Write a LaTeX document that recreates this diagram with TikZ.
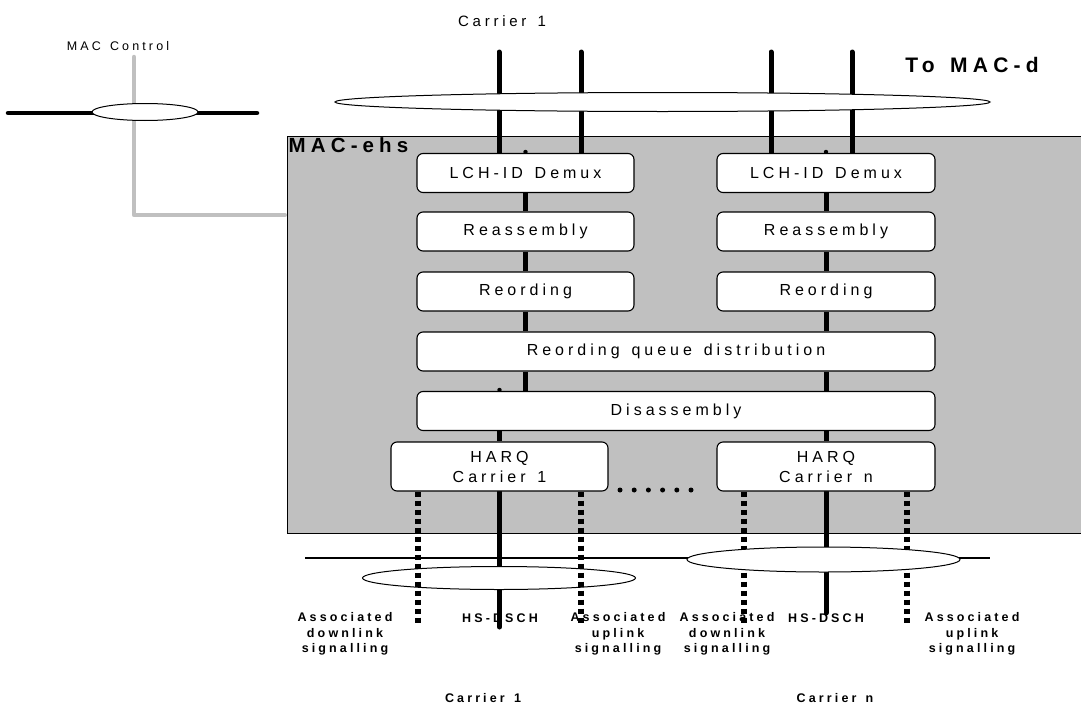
\documentclass[tikz,border=0pt]{standalone}
\usepackage{fontspec}
\setmainfont{Liberation Sans}
\newfontfamily\spaced[LetterSpace=25,WordSpace=1.4]{Liberation Sans}
\usetikzlibrary{shapes.geometric}
\definecolor{ehsgray}{RGB}{192,192,192}
\pgfdeclarelayer{bg}
\pgfdeclarelayer{back}
\pgfsetlayers{bg,back,main}

\begin{document}
\begin{tikzpicture}[x=1pt,y=-1pt,
		box/.style={draw,fill=white,rounded corners=6pt,line width=1.1pt,inner sep=0pt,minimum height=39pt,font=\spaced\fontsize{16}{20}\selectfont,align=center},
		link/.style={line width=5pt},
		chan/.style={line width=5pt,line cap=round},
		sig/.style={line width=6pt,dash pattern=on 5pt off 4pt},
		ctrl/.style={ehsgray,line width=4.5pt,line cap=round,line join=round},
		bundle/.style={ellipse,draw,fill=white,line width=1pt,inner sep=0pt},
		lbl/.style={font=\spaced\bfseries\fontsize{12.5}{15.5}\selectfont,align=center,inner sep=0pt}]
	\useasboundingbox (0,0) rectangle (1081,704);

	\begin{pgfonlayer}{bg}
		\node[draw,fill=ehsgray,line width=0.8pt,anchor=north west,inner sep=0pt,minimum width=800pt,minimum height=397pt] (ehs) at (287,136) {};
		\coordinate (mtop) at (134,57);
		\coordinate (bend) at (134,215);
		\draw[ctrl,shorten >=2.2pt] (mtop) -- (bend) -- (bend -| ehs.west);
	\end{pgfonlayer}
	\node[anchor=north west,inner sep=1.5pt,font=\spaced\bfseries\fontsize{20.5}{22}\selectfont] (ehslbl) at (ehs.north west) {MAC-ehs};

	% MAC Control
	\node[font=\spaced\fontsize{12.5}{14}\selectfont] (mctl) at (118,46) {MAC Control};
	\coordinate (ml) at (8,113);
	\coordinate (mr) at (257,113);
	\begin{pgfonlayer}{back}
		\draw[chan,line width=4.5pt] (ml) -- (mr);
	\end{pgfonlayer}
	\node[bundle,minimum width=106pt,minimum height=17pt] (macb) at (145,112) {};

	% top
	\node[font=\spaced\fontsize{15}{17}\selectfont] (car1) at (502,21) {Carrier 1};
	\node[font=\spaced\bfseries\fontsize{21}{23}\selectfont] (tomacd) at (972,65) {To MAC-d};
	\coordinate (topa) at (499,52);
	\coordinate (topb) at (581,52);
	\coordinate (topc) at (771,52);
	\coordinate (topd) at (852,52);

	% MAC-ehs entities
	\node[box,minimum width=217pt] (lch1) at (525.5,173) {LCH-ID Demux};
	\node[box,minimum width=218pt] (lch2) at (826,173) {LCH-ID Demux};
	\node[box,minimum width=217pt] (rea1) at (525.5,231.5) {Reassembly};
	\node[box,minimum width=218pt] (rea2) at (826,231.5) {Reassembly};
	\node[box,minimum width=217pt] (reo1) at (525.5,291.5) {Reording};
	\node[box,minimum width=218pt] (reo2) at (826,291.5) {Reording};
	\node[box,minimum width=518pt] (rqd) at (676,351.5) {Reording queue distribution};
	\node[box,minimum width=518pt] (dis) at (676,411) {Disassembly};
	\node[box,minimum width=217pt,minimum height=49pt] (harq1) at (499.5,466.5) {HARQ\\Carrier 1};
	\node[box,minimum width=218pt,minimum height=49pt] (harq2) at (826,466.5) {HARQ\\Carrier n};

	\node[bundle,minimum width=655pt,minimum height=19pt] (tob) at (662.5,102) {};

	% bottom
	\coordinate (bl) at (305,558);
	\coordinate (br) at (990,558);
	\coordinate (hs1) at (499.5,627);
	\coordinate (hs2) at (826,613);
	\coordinate (dl1) at (418,625);
	\coordinate (ul1) at (581,625);
	\coordinate (dl2) at (744,625);
	\coordinate (ul2) at (907,625);

	\begin{pgfonlayer}{back}
		\foreach \n in {a,b,c,d}
			\draw[chan] (top\n) -- (top\n |- lch1.north);
		\fill (lch1.north) ++(0,-1) circle (2.2pt);
		\fill (lch2.north) ++(0,-1) circle (2.2pt);
		\fill (dis.north -| harq1) ++(0,-1) circle (2.2pt);
		\foreach \c in {1,2} {
			\draw[link] (lch\c) -- (rea\c);
			\draw[link] (rea\c) -- (reo\c);
			\draw[link] (reo\c) -- (reo\c |- rqd.north);
			\draw[link] (reo\c |- rqd.south) -- (reo\c |- dis.north);
			\draw[link] (dis.south -| harq\c) -- (harq\c);
		}
		\draw[line width=1.1pt] (bl) -- (br);
		\draw[chan] (harq1.south) -- (hs1);
		\draw[chan] (harq2.south) -- (hs2);
		\draw[sig] (dl2 |- harq2.south) -- (dl2);
		\draw[sig] (ul2 |- harq2.south) -- (ul2);
	\end{pgfonlayer}

	\node[bundle,minimum width=273pt,minimum height=23pt] (bun1) at (499,578) {};
	\node[bundle,minimum width=273pt,minimum height=25pt] (bun2) at (823.5,559.5) {};
	\draw[sig] (dl1 |- harq1.south) -- (dl1);
	\draw[sig] (ul1 |- harq1.south) -- (ul1);
	\foreach \i in {0,...,5}
		\fill (620+14.2*\i,490) circle (2.5pt);

	\node[lbl] (adl1) at (345,634) {Associated\\downlink\\signalling};
	\node[lbl] (hsl1) at (500,618) {HS-DSCH};
	\node[lbl] (aul1) at (618,634) {Associated\\uplink\\signalling};
	\node[lbl] (adl2) at (727,634) {Associated\\downlink\\signalling};
	\node[lbl] (hsl2) at (826,618) {HS-DSCH};
	\node[lbl] (aul2) at (972,634) {Associated\\uplink\\signalling};
	\node[lbl] (carb1) at (483,698) {Carrier 1};
	\node[lbl] (carbn) at (835,698) {Carrier n};
\end{tikzpicture}
\end{document}
